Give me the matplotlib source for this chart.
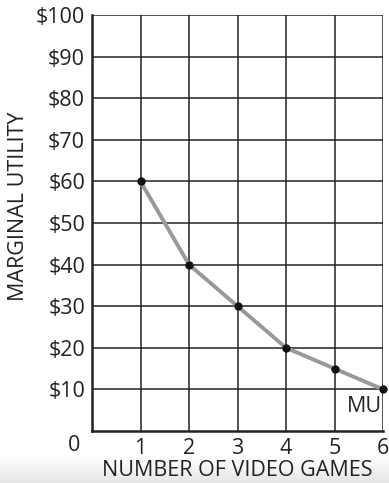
import matplotlib
matplotlib.use("Agg")
import matplotlib.pyplot as plt
import numpy as np

games = [1, 2, 3, 4, 5, 6]
utility = [60, 40, 30, 20, 15, 10]
x_ticks = [1, 2, 3, 4, 5, 6]
y_ticks = [10, 20, 30, 40, 50, 60, 70, 80, 90, 100]
y_labels = [f"${v}" for v in y_ticks]

plt.rcParams['font.family'] = ['Open Sans', 'DejaVu Sans']
FS = 15.5

fig = plt.figure(figsize=(3.89, 4.83), dpi=100)
# light gray gradient at bottom
bg = fig.add_axes([0, 0, 1, 0.055], zorder=-5)
grad = np.linspace(0, 1, 50).reshape(-1, 1)
bg.imshow(grad, aspect='auto', cmap=matplotlib.colors.LinearSegmentedColormap.from_list('g', ['#e6e6e6', '#ffffff']),
          extent=[0, 1, 0, 1], origin='lower')
bg.axis('off')

ax = fig.add_axes([92/389, 52/483, 291/389, 416/483])
ax.set_xlim(0, 6)
ax.set_ylim(0, 100)
ax.set_xticks(x_ticks)
ax.set_yticks(y_ticks)
ax.set_yticklabels(y_labels)
ax.grid(True, color='#222222', linewidth=1.1)
ax.set_axisbelow(True)
for s in ['top', 'right']:
    ax.spines[s].set_visible(False)
for s in ['left', 'bottom']:
    ax.spines[s].set_linewidth(1.8)
    ax.spines[s].set_color('#222222')
ax.tick_params(length=0, labelsize=FS, colors='#222222', pad=5)
for lab in ax.get_xticklabels() + ax.get_yticklabels():
    lab.set_fontweight('medium')

ax.plot(games, utility, color='#999999', linewidth=2.8, zorder=3, clip_on=False)
ax.plot(games, utility, 'o', color='#111111', markersize=5, zorder=4, clip_on=False)
ax.text(5.97, 6, 'MU', ha='right', va='center', fontsize=FS, color='#222222', fontweight='medium')
ax.text(-0.25, -1, '0', ha='right', va='top', fontsize=FS, color='#222222', fontweight='medium')

ax.set_xlabel('NUMBER OF VIDEO GAMES', fontsize=FS, color='#222222', labelpad=1, fontweight='medium')
ax.set_ylabel('MARGINAL UTILITY', fontsize=FS, color='#222222', fontweight='medium')
ax.yaxis.set_label_coords(-0.215, 0.54)

fig.savefig('out.png', dpi=100)
